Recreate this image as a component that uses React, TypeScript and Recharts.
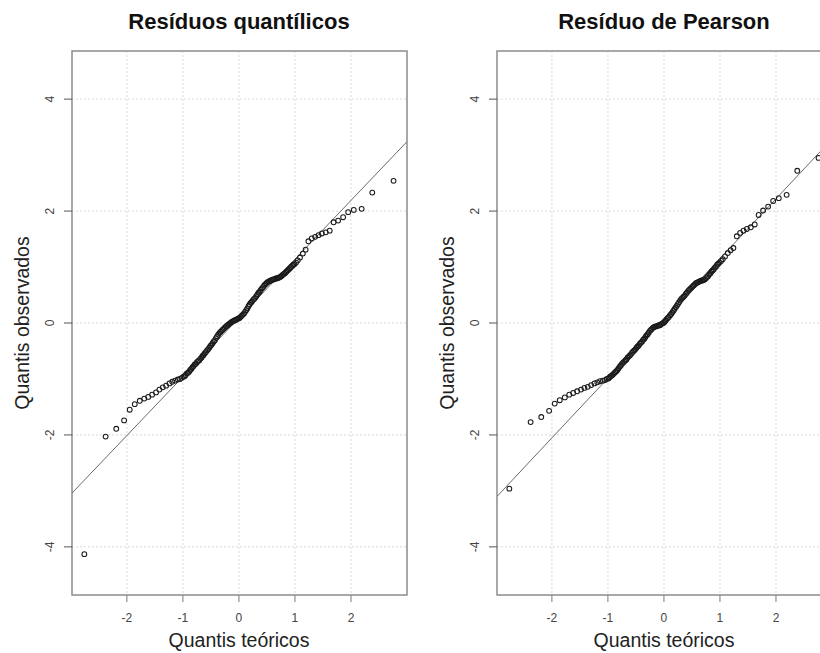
import React from "react";
import {
  ScatterChart,
  Scatter,
  XAxis,
  YAxis,
  CartesianGrid,
  ReferenceLine,
  ReferenceArea,
} from "recharts";

// Theoretical normal quantiles shared by both panels
const teoricos = [
  -2.76, -2.38, -2.19, -2.05, -1.95, -1.86, -1.77, -1.69, -1.62, -1.55,
  -1.48, -1.42, -1.36, -1.3, -1.24, -1.19, -1.14, -1.09, -1.05, -1.02,
  -0.99, -0.97, -0.95, -0.93, -0.91, -0.89, -0.87, -0.85, -0.83, -0.81,
  -0.79, -0.77, -0.75, -0.73, -0.71, -0.69, -0.67, -0.65, -0.63, -0.61,
  -0.59, -0.57, -0.55, -0.53, -0.51, -0.49, -0.47, -0.45, -0.43, -0.41,
  -0.39, -0.37, -0.35, -0.33, -0.31, -0.29, -0.27, -0.25, -0.23, -0.21,
  -0.19, -0.17, -0.15, -0.13, -0.11, -0.09, -0.07, -0.05, -0.03, -0.01,
  0.01, 0.03, 0.05, 0.07, 0.09, 0.11, 0.13, 0.15, 0.17, 0.19,
  0.21, 0.23, 0.25, 0.27, 0.29, 0.31, 0.33, 0.35, 0.37, 0.39,
  0.41, 0.43, 0.45, 0.47, 0.49, 0.51, 0.53, 0.55, 0.57, 0.59,
  0.61, 0.63, 0.65, 0.67, 0.69, 0.71, 0.73, 0.75, 0.77, 0.79,
  0.81, 0.83, 0.85, 0.87, 0.89, 0.91, 0.93, 0.95, 0.97, 0.99,
  1.02, 1.05, 1.09, 1.14, 1.19, 1.24, 1.3, 1.36, 1.42, 1.48,
  1.55, 1.62, 1.69, 1.77, 1.86, 1.95, 2.05, 2.19, 2.38, 2.76,
];

// Sorted quantile residuals
const residuosQuantilicos = [
  -4.13, -2.03, -1.89, -1.74, -1.55, -1.45, -1.39, -1.35, -1.32, -1.28,
  -1.24, -1.19, -1.15, -1.12, -1.08, -1.05, -1.03, -1.01, -1.0, -0.98,
  -0.96, -0.95, -0.93, -0.9, -0.89, -0.87, -0.84, -0.82, -0.79, -0.77,
  -0.74, -0.73, -0.7, -0.68, -0.67, -0.64, -0.62, -0.59, -0.57, -0.54,
  -0.52, -0.49, -0.47, -0.44, -0.41, -0.39, -0.36, -0.33, -0.31, -0.27,
  -0.24, -0.21, -0.18, -0.16, -0.14, -0.12, -0.1, -0.08, -0.06, -0.05,
  -0.03, -0.01, 0.0, 0.02, 0.03, 0.04, 0.05, 0.06, 0.07, 0.08,
  0.09, 0.11, 0.13, 0.15, 0.17, 0.2, 0.23, 0.26, 0.3, 0.33,
  0.36, 0.38, 0.41, 0.43, 0.45, 0.48, 0.51, 0.54, 0.56, 0.59,
  0.62, 0.64, 0.67, 0.69, 0.71, 0.73, 0.74, 0.75, 0.76, 0.77,
  0.78, 0.78, 0.79, 0.8, 0.8, 0.81, 0.82, 0.83, 0.85, 0.87,
  0.88, 0.9, 0.92, 0.94, 0.96, 0.98, 1.0, 1.02, 1.04, 1.05,
  1.08, 1.12, 1.17, 1.24, 1.31, 1.46, 1.51, 1.54, 1.57, 1.6,
  1.62, 1.65, 1.8, 1.83, 1.89, 1.98, 2.02, 2.04, 2.33, 2.54,
];

// Sorted Pearson residuals
const residuosPearson = [
  -2.96, -1.77, -1.68, -1.57, -1.44, -1.38, -1.33, -1.28, -1.25, -1.22,
  -1.19, -1.16, -1.14, -1.11, -1.08, -1.06, -1.04, -1.03, -1.02, -1.0,
  -0.99, -0.97, -0.95, -0.94, -0.92, -0.9, -0.88, -0.86, -0.84, -0.81,
  -0.78, -0.76, -0.73, -0.71, -0.69, -0.67, -0.65, -0.62, -0.6, -0.58,
  -0.56, -0.53, -0.51, -0.49, -0.47, -0.44, -0.42, -0.4, -0.37, -0.35,
  -0.33, -0.3, -0.28, -0.25, -0.22, -0.2, -0.17, -0.14, -0.12, -0.1,
  -0.08, -0.07, -0.06, -0.06, -0.05, -0.04, -0.04, -0.02, -0.01, 0.0,
  0.02, 0.04, 0.07, 0.09, 0.11, 0.14, 0.16, 0.19, 0.22, 0.25,
  0.28, 0.31, 0.34, 0.37, 0.4, 0.43, 0.45, 0.47, 0.49, 0.52,
  0.54, 0.57, 0.59, 0.61, 0.63, 0.65, 0.67, 0.69, 0.71, 0.72,
  0.73, 0.74, 0.75, 0.76, 0.76, 0.77, 0.78, 0.8, 0.82, 0.84,
  0.87, 0.89, 0.92, 0.94, 0.96, 0.99, 1.01, 1.04, 1.06, 1.08,
  1.11, 1.14, 1.19, 1.25, 1.3, 1.34, 1.55, 1.61, 1.65, 1.68,
  1.71, 1.76, 1.93, 2.01, 2.08, 2.18, 2.23, 2.29, 2.72, 2.95,
];

// qqline fits (intercept, slope)
const linhaQuantilicos = { a: 0.09, b: 1.05 };
const linhaPearson = { a: 0.083, b: 1.068 };

const xTicks = [-2, -1, 0, 1, 2];
const yTicks = [-4, -2, 0, 2, 4];
const xDomain: [number, number] = [-2.98, 3.0];
const yDomain: [number, number] = [-4.86, 4.86];

const FONT = "'Liberation Sans', Arial, Helvetica, sans-serif";

const Ponto = (props: any) => (
  <circle
    cx={props.cx}
    cy={props.cy}
    r={2.4}
    fill="none"
    stroke="#1a1a1a"
    strokeWidth={1.05}
  />
);

interface PainelProps {
  valores: number[];
  linha: { a: number; b: number };
  left: number;
}

const Painel: React.FC<PainelProps> = ({ valores, linha, left }) => {
  const data = teoricos.map((x, i) => ({ x, y: valores[i] }));
  const [x0, x1] = xDomain;

  return (
    <div style={{ position: "absolute", left, top: 0, width: 420, height: 653 }}>
      <ScatterChart
        width={420}
        height={653}
        margin={{ top: 51, right: 13, bottom: 28, left: 12 }}
      >
        <CartesianGrid
          stroke="#dadada"
          strokeDasharray="2 2"
          horizontalValues={yTicks}
          verticalValues={xTicks}
        />
        <XAxis
          type="number"
          dataKey="x"
          domain={xDomain}
          allowDataOverflow
          ticks={xTicks}
          height={30}
          axisLine={false}
          tickSize={7}
          tickMargin={11}
          tickLine={{ stroke: "#7a7a7a" }}
          tick={{ fontSize: 12, fill: "#444", fontFamily: FONT }}
        />
        {/* labels run along the axis, base R style */}
        <YAxis
          type="number"
          dataKey="y"
          domain={yDomain}
          allowDataOverflow
          ticks={yTicks}
          width={60}
          axisLine={false}
          tickSize={8}
          tickMargin={14}
          tickLine={{ stroke: "#555", strokeWidth: 1 }}
          tick={{
            angle: -90,
            textAnchor: "middle",
            verticalAnchor: "middle",
            fontSize: 12,
            fill: "#444",
            fontFamily: FONT,
          }}
        />
        <ReferenceLine
          segment={[
            { x: x0, y: linha.a + linha.b * x0 },
            { x: x1, y: linha.a + linha.b * x1 },
          ]}
          stroke="#6a6a6a"
          strokeWidth={1}
          ifOverflow="hidden"
        />
        <Scatter data={data} shape={<Ponto />} isAnimationActive={false} />
        <ReferenceArea
          x1={x0}
          x2={x1}
          y1={yDomain[0]}
          y2={yDomain[1]}
          fill="none"
          stroke="#8c8c8c"
          strokeWidth={1.5}
          ifOverflow="visible"
        />
      </ScatterChart>
    </div>
  );
};

const App: React.FC = () => {
  return (
    <div
      style={{
        position: "fixed",
        left: 0,
        top: 0,
        width: 820,
        height: 653,
        overflow: "hidden",
        background: "#fff",
        fontFamily: FONT,
      }}
    >
      <Painel valores={residuosQuantilicos} linha={linhaQuantilicos} left={0} />
      <Painel valores={residuosPearson} linha={linhaPearson} left={425} />
      <svg
        width={820}
        height={653}
        style={{ position: "absolute", left: 0, top: 0, pointerEvents: "none" }}
        fontFamily={FONT}
      >
        <text x={239} y={29} textAnchor="middle" fontSize={22} fontWeight="bold" fill="#111">
          Resíduos quantílicos
        </text>
        <text x={664} y={29} textAnchor="middle" fontSize={22} fontWeight="bold" fill="#111">
          Resíduo de Pearson
        </text>
        <text x={239} y={647} textAnchor="middle" fontSize={19.5} fill="#222">
          Quantis teóricos
        </text>
        <text x={664} y={647} textAnchor="middle" fontSize={19.5} fill="#222">
          Quantis teóricos
        </text>
        <text x={29} y={323} transform="rotate(-90, 29, 323)" textAnchor="middle" fontSize={19.5} fill="#222">
          Quantis observados
        </text>
        <text x={454} y={323} transform="rotate(-90, 454, 323)" textAnchor="middle" fontSize={19.5} fill="#222">
          Quantis observados
        </text>
      </svg>
    </div>
  );
};

export default App;
